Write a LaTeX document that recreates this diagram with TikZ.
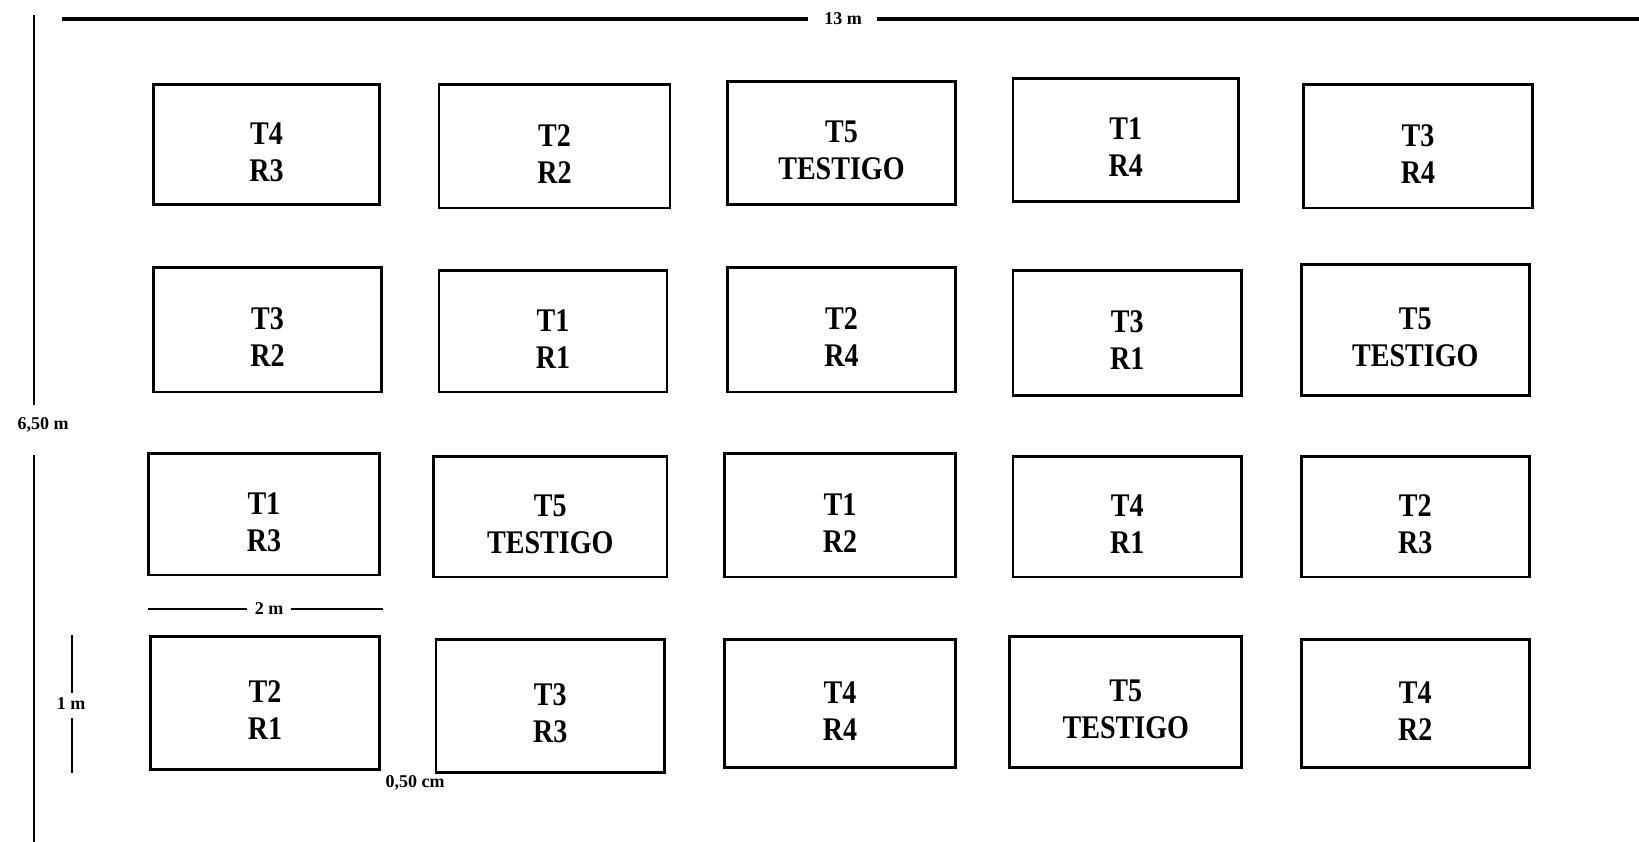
\documentclass[tikz,border=0pt]{standalone}
\usepackage{fontspec}
\setmainfont{Liberation Serif}
\newfontfamily\plotfont[FakeStretch=0.85]{Liberation Serif}
\begin{document}
\begin{tikzpicture}[x=1pt,y=-1pt,
  plotbox/.style={draw=black,line width=2.8pt,inner sep=0pt},
  plottext/.style={align=center,inner sep=0pt,font=\plotfont\bfseries\fontsize{33}{37}\selectfont},
  dimline/.style={draw=black,line width=2.2pt},
  dimtext/.style={inner sep=0pt,font=\bfseries\fontsize{18}{20}\selectfont}]
\useasboundingbox (0,0) rectangle (1639,842);
\fill[white] (0,0) rectangle (1639,842);
% plots: name, x1, y1, x2, y2, line1, line2
\newcommand\plotcell[7]{%
  \node[plotbox,minimum width={#4-#2},minimum height={#5-#3}] (#1) at ({(#2+#4)/2},{(#3+#5)/2}) {};
  \node[plottext] (#1t) at ([yshift=-7.5pt]#1.center) {#6\\#7};}
% row 1
\plotcell{a1}{153.7}{84.7}{379.4}{204.9}{T4}{R3}
\plotcell{a2}{439.0}{84.7}{670.0}{208.0}{T2}{R2}
\plotcell{a3}{727.5}{81.5}{955.4}{204.9}{T5}{TESTIGO}
\plotcell{a4}{1012.9}{78.4}{1238.7}{201.7}{T1}{R4}
\plotcell{a5}{1303.5}{84.7}{1532.4}{208.0}{T3}{R4}
% row 2
\plotcell{b1}{153.7}{267.6}{381.5}{392.0}{T3}{R2}
\plotcell{b2}{439.0}{270.7}{666.9}{392.0}{T1}{R1}
\plotcell{b3}{727.5}{267.6}{955.4}{392.0}{T2}{R4}
\plotcell{b4}{1012.9}{270.7}{1241.8}{395.1}{T3}{R1}
\plotcell{b5}{1301.4}{264.5}{1529.3}{395.1}{T5}{TESTIGO}
% row 3
\plotcell{c1}{148.4}{453.7}{379.4}{574.9}{T1}{R3}
\plotcell{c2}{433.8}{456.8}{666.9}{577.0}{T5}{TESTIGO}
\plotcell{c3}{724.4}{453.7}{955.4}{577.0}{T1}{R2}
\plotcell{c4}{1012.9}{456.8}{1241.8}{577.0}{T4}{R1}
\plotcell{c5}{1301.4}{456.8}{1529.3}{577.0}{T2}{R3}
% row 4
\plotcell{d1}{150.5}{636.6}{379.4}{769.3}{T2}{R1}
\plotcell{d2}{435.9}{639.7}{664.8}{772.5}{T3}{R3}
\plotcell{d3}{724.4}{639.7}{955.4}{767.2}{T4}{R4}
\plotcell{d4}{1009.7}{636.6}{1241.8}{767.2}{T5}{TESTIGO}
\plotcell{d5}{1301.4}{639.7}{1529.3}{767.2}{T4}{R2}
% top dimension 13 m
\coordinate (tl) at (62,19);
\coordinate (tr) at (1639,19);
\node[dimtext] (l13) at (843,19) {13 m};
\coordinate (tga) at (808,19);
\coordinate (tgb) at (877,19);
\draw[dimline,line width=3.5pt] (tl) -- (tga);
\draw[dimline,line width=3.5pt] (tgb) -- (tr);
% left dimension 6,50 m
\coordinate (lt) at (34,15);
\coordinate (lga) at (34,405);
\coordinate (lgb) at (34,455);
\coordinate (lb) at (34,842);
\draw[dimline] (lt) -- (lga);
\draw[dimline] (lgb) -- (lb);
\node[dimtext] (l650) at (43,425) {6,50 m};
% 2 m
\coordinate (wa) at (148,609);
\coordinate (wga) at (247,609);
\coordinate (wgb) at (291,609);
\coordinate (wb) at (383,609);
\draw[dimline] (wa) -- (wga);
\draw[dimline] (wgb) -- (wb);
\node[dimtext] (l2) at (269,609) {2 m};
% 1 m
\coordinate (ha) at (72,635);
\coordinate (hga) at (72,693);
\coordinate (hgb) at (72,718);
\coordinate (hb) at (72,773);
\draw[dimline] (ha) -- (hga);
\draw[dimline] (hgb) -- (hb);
\node[dimtext] (l1) at (71,704) {1 m};
% 0,50 cm
\node[dimtext] (l050) at (415,783) {0,50 cm};
\end{tikzpicture}
\end{document}
